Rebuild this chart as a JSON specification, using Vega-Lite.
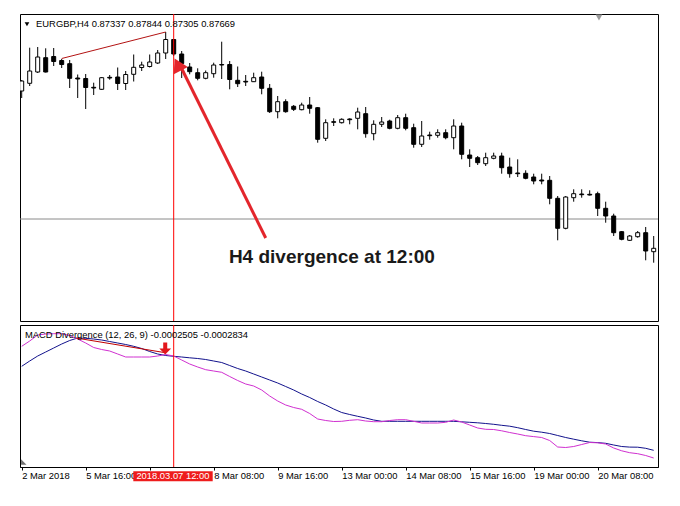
{
"$schema": "https://vega.github.io/schema/vega-lite/v6.json",
"background": "#ffffff",
"padding": {"left": 19, "top": 13, "right": 20, "bottom": 20},
"spacing": 2,
"datasets": {
"one": [{}],
"bars": [
{"i":0,"o":0.8910,"h":0.8921,"l":0.8903,"c":0.8920,"m":-0.000046,"s":-0.000446},
{"i":1,"o":0.89177,"h":0.89533,"l":0.8915,"c":0.8930,"m":0.00006,"s":-0.00034},
{"i":2,"o":0.8929,"h":0.8954,"l":0.8928,"c":0.8944,"m":0.00018,"s":-0.00024},
{"i":3,"o":0.89433,"h":0.89527,"l":0.89285,"c":0.8929,"m":0.0002,"s":-0.00016},
{"i":4,"o":0.89445,"h":0.8953,"l":0.8935,"c":0.89395,"m":0.000206,"s":-0.00008},
{"i":5,"o":0.89405,"h":0.8942,"l":0.8933,"c":0.89365,"m":0.000206,"s":0},
{"i":6,"o":0.89373,"h":0.8941,"l":0.8913,"c":0.89227,"m":0.00017,"s":0.00007},
{"i":7,"o":0.8923,"h":0.89265,"l":0.8903,"c":0.8922,"m":0.0001,"s":0.00012},
{"i":8,"o":0.89225,"h":0.8927,"l":0.8892,"c":0.89135,"m":0.00002,"s":0.000114},
{"i":9,"o":0.89137,"h":0.89183,"l":0.8906,"c":0.8913,"m":-0.00007,"s":0.0001},
{"i":10,"o":0.89117,"h":0.8924,"l":0.8911,"c":0.89233,"m":-0.00011,"s":0.00008},
{"i":11,"o":0.89237,"h":0.8926,"l":0.89213,"c":0.8923,"m":-0.00014,"s":0.00005},
{"i":12,"o":0.8924,"h":0.89335,"l":0.8911,"c":0.89175,"m":-0.0002,"s":0.00002},
{"i":13,"o":0.89175,"h":0.893,"l":0.8911,"c":0.89265,"m":-0.00026,"s":-0.00001},
{"i":14,"o":0.89267,"h":0.89465,"l":0.89195,"c":0.89337,"m":-0.00026,"s":-0.000046},
{"i":15,"o":0.89335,"h":0.89393,"l":0.893,"c":0.8936,"m":-0.00026,"s":-0.00009},
{"i":16,"o":0.89345,"h":0.89465,"l":0.89335,"c":0.8939,"m":-0.00026,"s":-0.00015},
{"i":17,"o":0.8938,"h":0.8951,"l":0.8937,"c":0.8948,"m":-0.00024,"s":-0.0002},
{"i":18,"o":0.8948,"h":0.8969,"l":0.8942,"c":0.89615,"m":-0.00021,"s":-0.00023},
{"i":19,"o":0.89615,"h":0.8962,"l":0.8945,"c":0.8947,"m":-0.00024,"s":-0.000246},
{"i":20,"o":0.8947,"h":0.895,"l":0.8923,"c":0.89375,"m":-0.00032,"s":-0.00026},
{"i":21,"o":0.8934,"h":0.8938,"l":0.89267,"c":0.89293,"m":-0.0004,"s":-0.000276},
{"i":22,"o":0.89283,"h":0.89327,"l":0.89207,"c":0.89227,"m":-0.00046,"s":-0.00029},
{"i":23,"o":0.89227,"h":0.89305,"l":0.89217,"c":0.89283,"m":-0.000514,"s":-0.00031},
{"i":24,"o":0.89273,"h":0.89383,"l":0.89233,"c":0.8936,"m":-0.00054,"s":-0.00034},
{"i":25,"o":0.89365,"h":0.89593,"l":0.8922,"c":0.8936,"m":-0.000566,"s":-0.00037},
{"i":26,"o":0.89365,"h":0.894,"l":0.89117,"c":0.89215,"m":-0.00065,"s":-0.00043},
{"i":27,"o":0.89207,"h":0.89345,"l":0.8914,"c":0.89173,"m":-0.00073,"s":-0.00049},
{"i":28,"o":0.89197,"h":0.8926,"l":0.8915,"c":0.8919,"m":-0.0008,"s":-0.00054},
{"i":29,"o":0.89193,"h":0.89283,"l":0.8919,"c":0.89233,"m":-0.00084,"s":-0.0006},
{"i":30,"o":0.8924,"h":0.89293,"l":0.89067,"c":0.89127,"m":-0.00092,"s":-0.00066},
{"i":31,"o":0.89127,"h":0.8917,"l":0.8888,"c":0.88893,"m":-0.00104,"s":-0.00072},
{"i":32,"o":0.88893,"h":0.8905,"l":0.88827,"c":0.88993,"m":-0.00114,"s":-0.00078},
{"i":33,"o":0.88993,"h":0.89017,"l":0.88883,"c":0.88893,"m":-0.00122,"s":-0.00085},
{"i":34,"o":0.88947,"h":0.8896,"l":0.889,"c":0.88917,"m":-0.00127,"s":-0.00092},
{"i":35,"o":0.88913,"h":0.88983,"l":0.88907,"c":0.8896,"m":-0.001306,"s":-0.001},
{"i":36,"o":0.8896,"h":0.8904,"l":0.88873,"c":0.88927,"m":-0.00139,"s":-0.00107},
{"i":37,"o":0.88933,"h":0.8894,"l":0.88583,"c":0.88617,"m":-0.0015,"s":-0.00115},
{"i":38,"o":0.88627,"h":0.88817,"l":0.886,"c":0.88783,"m":-0.00153,"s":-0.00122},
{"i":39,"o":0.88793,"h":0.88827,"l":0.8875,"c":0.88787,"m":-0.00155,"s":-0.0013},
{"i":40,"o":0.88783,"h":0.88827,"l":0.88775,"c":0.88817,"m":-0.001546,"s":-0.00137},
{"i":41,"o":0.8882,"h":0.88827,"l":0.88767,"c":0.88813,"m":-0.001526,"s":-0.00141},
{"i":42,"o":0.88827,"h":0.88933,"l":0.88717,"c":0.8889,"m":-0.001514,"s":-0.001446},
{"i":43,"o":0.88873,"h":0.8894,"l":0.88633,"c":0.88673,"m":-0.00154,"s":-0.00148},
{"i":44,"o":0.88673,"h":0.88807,"l":0.88607,"c":0.88767,"m":-0.001554,"s":-0.00152},
{"i":45,"o":0.88767,"h":0.8884,"l":0.8874,"c":0.8879,"m":-0.001554,"s":-0.001546},
{"i":46,"o":0.888,"h":0.88813,"l":0.88717,"c":0.88727,"m":-0.00153,"s":-0.001546},
{"i":47,"o":0.88727,"h":0.8886,"l":0.88717,"c":0.88833,"m":-0.001514,"s":-0.001546},
{"i":48,"o":0.88833,"h":0.88873,"l":0.88707,"c":0.88727,"m":-0.001514,"s":-0.001546},
{"i":49,"o":0.88733,"h":0.88773,"l":0.88533,"c":0.88567,"m":-0.001546,"s":-0.001546},
{"i":50,"o":0.88567,"h":0.888,"l":0.8854,"c":0.8865,"m":-0.00158,"s":-0.001546},
{"i":51,"o":0.8866,"h":0.88693,"l":0.88613,"c":0.88653,"m":-0.00158,"s":-0.001546},
{"i":52,"o":0.88657,"h":0.88717,"l":0.88633,"c":0.88683,"m":-0.00158,"s":-0.001546},
{"i":53,"o":0.88683,"h":0.88717,"l":0.88617,"c":0.88633,"m":-0.001566,"s":-0.001546},
{"i":54,"o":0.88633,"h":0.88817,"l":0.88517,"c":0.8875,"m":-0.00152,"s":-0.001546},
{"i":55,"o":0.8875,"h":0.88783,"l":0.88417,"c":0.88467,"m":-0.00156,"s":-0.001556},
{"i":56,"o":0.8846,"h":0.88517,"l":0.8834,"c":0.88427,"m":-0.00162,"s":-0.001566},
{"i":57,"o":0.88433,"h":0.8845,"l":0.8836,"c":0.88383,"m":-0.00168,"s":-0.001576},
{"i":58,"o":0.88373,"h":0.88483,"l":0.8835,"c":0.88433,"m":-0.001706,"s":-0.00159},
{"i":59,"o":0.88427,"h":0.88483,"l":0.88417,"c":0.8845,"m":-0.00171,"s":-0.001606},
{"i":60,"o":0.8845,"h":0.88483,"l":0.88273,"c":0.88333,"m":-0.001736,"s":-0.001626},
{"i":61,"o":0.8834,"h":0.88433,"l":0.88233,"c":0.88273,"m":-0.00177,"s":-0.001644},
{"i":62,"o":0.8828,"h":0.88417,"l":0.8824,"c":0.88273,"m":-0.0018,"s":-0.001674},
{"i":63,"o":0.88277,"h":0.88307,"l":0.88217,"c":0.88227,"m":-0.001834,"s":-0.00171},
{"i":64,"o":0.8824,"h":0.88273,"l":0.88167,"c":0.882,"m":-0.001852,"s":-0.001744},
{"i":65,"o":0.8821,"h":0.88273,"l":0.88167,"c":0.882,"m":-0.00187,"s":-0.001764},
{"i":66,"o":0.88207,"h":0.8825,"l":0.87967,"c":0.88027,"m":-0.00193,"s":-0.00179},
{"i":67,"o":0.88027,"h":0.8805,"l":0.87607,"c":0.87727,"m":-0.00206,"s":-0.00183},
{"i":68,"o":0.87727,"h":0.8805,"l":0.87717,"c":0.8804,"m":-0.00207,"s":-0.00187},
{"i":69,"o":0.88033,"h":0.88117,"l":0.87993,"c":0.88073,"m":-0.00205,"s":-0.001904},
{"i":70,"o":0.8807,"h":0.88117,"l":0.88033,"c":0.88063,"m":-0.00201,"s":-0.001936},
{"i":71,"o":0.88067,"h":0.88107,"l":0.88055,"c":0.8806,"m":-0.00197,"s":-0.001964},
{"i":72,"o":0.88073,"h":0.88093,"l":0.8785,"c":0.87927,"m":-0.001976,"s":-0.001972},
{"i":73,"o":0.87927,"h":0.87993,"l":0.87783,"c":0.8785,"m":-0.002,"s":-0.001986},
{"i":74,"o":0.8785,"h":0.87873,"l":0.8765,"c":0.87683,"m":-0.00208,"s":-0.00202},
{"i":75,"o":0.87693,"h":0.877,"l":0.87607,"c":0.87617,"m":-0.002136,"s":-0.00205},
{"i":76,"o":0.87607,"h":0.8766,"l":0.876,"c":0.8765,"m":-0.002174,"s":-0.002062},
{"i":77,"o":0.87643,"h":0.877,"l":0.87633,"c":0.87683,"m":-0.002194,"s":-0.002064},
{"i":78,"o":0.87683,"h":0.8774,"l":0.87407,"c":0.875,"m":-0.00223,"s":-0.002086},
{"i":79,"o":0.87493,"h":0.8765,"l":0.87383,"c":0.87527,"m":-0.00228,"s":-0.002126}
]
},
"config": {
"font": "Liberation Sans",
"view": {"stroke": "#000000", "strokeWidth": 1},
"axis": {"grid": false, "title": null}
},
"vconcat": [
{
"width": 638,
"height": 307,
"layer": [
{
"data": {"name": "one"},
"mark": {"type": "rule", "color": "#8a8a8a", "strokeWidth": 1},
"encoding": {
"y": {"datum": 0.8782, "type": "quantitative", "scale": {"domain": [0.868, 0.8987], "nice": false, "zero": false, "padding": 0}, "axis": null}
}
},
{
"data": {"name": "bars"},
"mark": {"type": "rule", "color": "#000000", "strokeWidth": 1, "clip": true},
"encoding": {
"x": {"field": "i", "type": "quantitative", "scale": {"domain": [-0.2125, 79.5375], "nice": false, "zero": false, "padding": 0}, "axis": null},
"y": {"field": "l", "type": "quantitative", "scale": {"domain": [0.868, 0.8987], "nice": false, "zero": false, "padding": 0}, "axis": null},
"y2": {"field": "h"}
}
},
{
"data": {"name": "bars"},
"mark": {"type": "bar", "width": 4, "stroke": "#000000", "strokeWidth": 1, "clip": true},
"encoding": {
"x": {"field": "i", "type": "quantitative", "axis": null},
"y": {"field": "o", "type": "quantitative", "axis": null},
"y2": {"field": "c"},
"fill": {"condition": {"test": "datum.c > datum.o", "value": "#ffffff"}, "value": "#000000"}
}
},
{
"data": {"name": "one"},
"mark": {"type": "rule", "color": "#b31313", "strokeWidth": 1},
"encoding": {
"x": {"datum": 5, "type": "quantitative", "axis": null},
"y": {"datum": 0.89425, "type": "quantitative", "axis": null},
"x2": {"datum": 18},
"y2": {"datum": 0.8969}
}
},
{
"data": {"name": "one"},
"mark": {"type": "rule", "color": "#ff0000", "strokeWidth": 1},
"encoding": {
"x": {"datum": 19, "type": "quantitative", "axis": null}
}
},
{
"data": {"name": "one"},
"mark": {"type": "rule", "color": "#e3262c", "strokeWidth": 3},
"encoding": {
"x": {"datum": 30.5, "type": "quantitative", "axis": null},
"y": {"datum": 0.8763, "type": "quantitative", "axis": null},
"x2": {"datum": 19.9},
"y2": {"datum": 0.8934}
}
},
{
"data": {"name": "one"},
"mark": {"type": "point", "shape": "triangle-up", "filled": true, "color": "#e3262c", "opacity": 1, "size": 250, "angle": 333},
"encoding": {
"x": {"datum": 19.5, "type": "quantitative", "axis": null},
"y": {"datum": 0.89365, "type": "quantitative", "axis": null}
}
},
{
"data": {"name": "one"},
"mark": {"type": "text", "text": "H4 divergence at 12:00", "font": "Liberation Sans", "fontWeight": "bold", "fontSize": 19, "color": "#1a1a1a", "align": "left", "baseline": "middle"},
"encoding": {
"x": {"datum": 25.9, "type": "quantitative", "axis": null},
"y": {"datum": 0.8744, "type": "quantitative", "axis": null}
}
},
{
"data": {"name": "one"},
"mark": {"type": "point", "shape": "triangle-down", "filled": true, "color": "#000000", "opacity": 1, "size": 22},
"encoding": {
"x": {"datum": 0.66, "type": "quantitative", "axis": null},
"y": {"datum": 0.89767, "type": "quantitative", "axis": null}
}
},
{
"data": {"name": "one"},
"mark": {"type": "text", "text": "EURGBP,H4  0.87337 0.87844 0.87305 0.87669", "fontSize": 9.4, "color": "#000000", "align": "left", "baseline": "middle"},
"encoding": {
"x": {"datum": 1.8, "type": "quantitative", "axis": null},
"y": {"datum": 0.8977, "type": "quantitative", "axis": null}
}
},
{
"data": {"name": "one"},
"mark": {"type": "point", "shape": "triangle-down", "filled": true, "color": "#9a9a9a", "opacity": 1, "size": 45},
"encoding": {
"x": {"datum": 72.16, "type": "quantitative", "axis": null},
"y": {"datum": 0.89835, "type": "quantitative", "axis": null}
}
}
]
},
{
"width": 638,
"height": 142,
"layer": [
{
"data": {"name": "bars"},
"mark": {"type": "line", "color": "#12128c", "strokeWidth": 1},
"encoding": {
"x": {"field": "i", "type": "quantitative", "scale": {"domain": [-0.2125, 79.5375], "nice": false, "zero": false, "padding": 0},
"axis": {"values": [0, 8, 16, 24, 32, 40, 48, 56, 64, 72], "labelExpr": "datum.value == 0 ? '2 Mar 2018' : datum.value == 8 ? '5 Mar 16:00' : datum.value == 24 ? '8 Mar 08:00' : datum.value == 32 ? '9 Mar 16:00' : datum.value == 40 ? '13 Mar 00:00' : datum.value == 48 ? '14 Mar 08:00' : datum.value == 56 ? '15 Mar 16:00' : datum.value == 64 ? '19 Mar 00:00' : datum.value == 72 ? '20 Mar 08:00' : ''", "domainColor": "#000000", "tickColor": "#000000", "tickSize": 3, "labelColor": "#000000", "labelFontSize": 9.4, "labelFont": "Liberation Sans", "labelAlign": "left", "labelPadding": 1, "labelFlush": false, "labelOverlap": false, "title": null}},
"y": {"field": "s", "type": "quantitative", "scale": {"domain": [-0.00246, 0.00038], "nice": false, "zero": false, "padding": 0}, "axis": null}
}
},
{
"data": {"name": "bars"},
"mark": {"type": "line", "color": "#d030d0", "strokeWidth": 1},
"encoding": {
"x": {"field": "i", "type": "quantitative"},
"y": {"field": "m", "type": "quantitative", "axis": null}
}
},
{
"data": {"name": "one"},
"mark": {"type": "rule", "color": "#c00000", "strokeWidth": 1},
"encoding": {
"x": {"datum": 6.8, "type": "quantitative"},
"y": {"datum": 0.00012, "type": "quantitative", "axis": null},
"x2": {"datum": 17.8},
"y2": {"datum": -0.00017}
}
},
{
"data": {"name": "one"},
"mark": {"type": "rule", "color": "#ff0000", "strokeWidth": 1},
"encoding": {
"x": {"datum": 19, "type": "quantitative"}
}
},
{
"data": {"name": "one"},
"mark": {"type": "point", "shape": "M-0.34,-1L0.34,-1L0.34,0L1,0L0,1L-1,0L-0.34,0Z", "filled": true, "color": "#e3161c", "opacity": 1, "size": 140},
"encoding": {
"x": {"datum": 17.94, "type": "quantitative"},
"y": {"datum": -0.00009, "type": "quantitative", "axis": null}
}
},
{
"data": {"name": "one"},
"mark": {"type": "point", "shape": "M-1,1L-1,-1L1,1Z", "filled": true, "color": "#707070", "opacity": 1, "size": 30},
"encoding": {
"x": {"datum": 0.26, "type": "quantitative"},
"y": {"datum": -0.00236, "type": "quantitative", "axis": null}
}
},
{
"data": {"name": "one"},
"mark": {"type": "text", "text": "MACD Divergence (12, 26, 9) -0.0002505 -0.0002834", "fontSize": 9.4, "color": "#000000", "align": "left", "baseline": "middle"},
"encoding": {
"x": {"datum": 0.41, "type": "quantitative"},
"y": {"datum": 0.00019, "type": "quantitative", "axis": null}
}
},
{
"data": {"name": "one"},
"mark": {"type": "rect", "color": "#ee1c1c", "clip": false},
"encoding": {
"x": {"datum": 13.95, "type": "quantitative"},
"x2": {"datum": 23.875},
"y": {"datum": -0.002546, "type": "quantitative", "axis": null},
"y2": {"datum": -0.002746}
}
},
{
"data": {"name": "one"},
"mark": {"type": "text", "text": "2018.03.07 12:00", "fontSize": 9.4, "color": "#ffffff", "align": "center", "baseline": "middle", "clip": false},
"encoding": {
"x": {"datum": 18.9, "type": "quantitative"},
"y": {"datum": -0.002646, "type": "quantitative", "axis": null}
}
}
]
}
]
}
